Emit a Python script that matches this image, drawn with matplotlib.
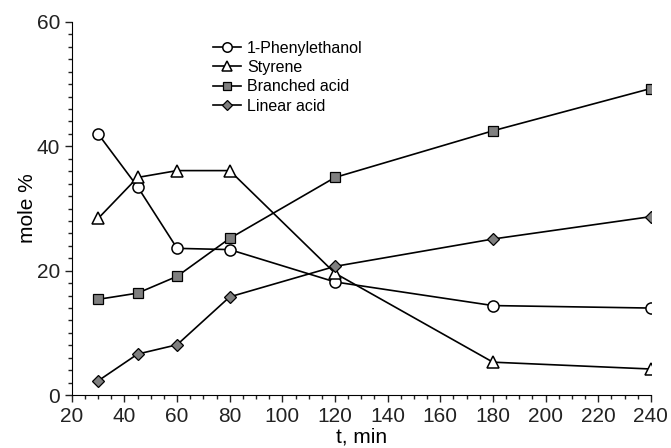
import numpy as np
import matplotlib
matplotlib.use("Agg")
import matplotlib.pyplot as plt
from matplotlib.ticker import MultipleLocator

plt.rcParams["font.family"] = ["Liberation Sans", "DejaVu Sans"]

t_min = [30, 45, 60, 80, 120, 180, 240]
phenylethanol = [42.0, 33.5, 23.6, 23.4, 18.2, 14.4, 14.0]
styrene = [28.4, 35.0, 36.1, 36.1, 19.6, 5.3, 4.2]
branched_acid = [15.4, 16.4, 19.1, 25.2, 35.0, 42.5, 49.3]
linear_acid = [2.3, 6.6, 8.1, 15.8, 20.7, 25.1, 28.7]

series_names = ["1-Phenylethanol", "Styrene", "Branched acid", "Linear acid"]

fig = plt.figure(figsize=(6.71, 4.48), dpi=100)
ax = fig.add_axes([0.107, 0.118, 0.863, 0.833])

ax.plot(t_min, phenylethanol, color="black", lw=1.2, marker="o", ms=8,
        mfc="white", mec="black", mew=1.1, label=series_names[0])
ax.plot(t_min, styrene, color="black", lw=1.2, marker="^", ms=8,
        mfc="white", mec="black", mew=1.1, label=series_names[1])
ax.plot(t_min, branched_acid, color="black", lw=1.2, marker="s", ms=7.5,
        mfc="#7f7f7f", mec="black", mew=0.9, label=series_names[2])
ax.plot(t_min, linear_acid, color="black", lw=1.2, marker="D", ms=6,
        mfc="#7f7f7f", mec="black", mew=0.9, label=series_names[3])

ax.set_xlim(20, 240)
ax.set_ylim(0, 60)
ax.xaxis.set_major_locator(MultipleLocator(20))
ax.xaxis.set_minor_locator(MultipleLocator(5))
ax.yaxis.set_major_locator(MultipleLocator(20))
ax.yaxis.set_minor_locator(MultipleLocator(2))
ax.tick_params(which="major", direction="out", length=5, width=1, labelsize=15,
               colors="#222222")
ax.tick_params(which="minor", direction="out", length=3, width=1, colors="#222222")

for side in ["top", "right"]:
    ax.spines[side].set_visible(False)

ax.set_xlabel("t, min", fontsize=15, labelpad=1)
ax.set_ylabel("mole %", fontsize=15, labelpad=0)

# legend markers drawn a little smaller than in the plot
ax.legend(loc="upper left", bbox_to_anchor=(0.224, 0.98), frameon=False,
          fontsize=11.5, handlelength=1.75, handletextpad=0.4, labelspacing=0.27,
          borderaxespad=0.3, markerscale=0.85)

fig.savefig("out.png", dpi=100)
